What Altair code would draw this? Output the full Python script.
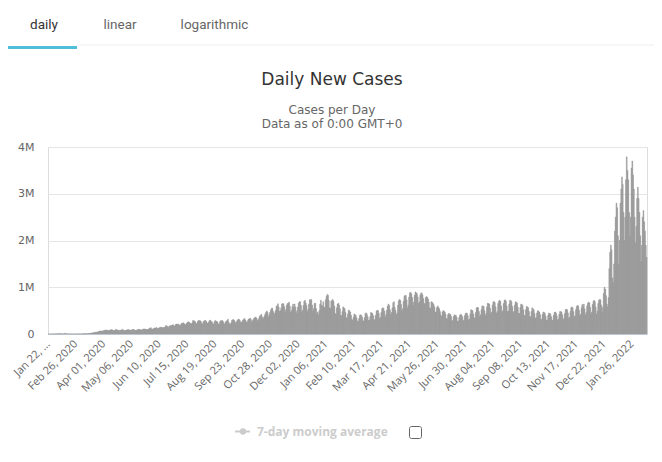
import altair as alt
import pandas as pd

# Daily new cases (thousands); weeks start on Wednesday
cases_2020_k = [
    0.6, 0.3, 0.3, 0.5, 0.7, 0.8, 1.8,
    1.7, 2.0, 2.1, 2.6, 2.8, 3.2, 3.9,
    3.7, 3.2, 3.4, 2.7, 2.6, 2.1, 2.0,
    15.1, 4.0, 2.6, 2.1, 2.0, 1.9, 1.8,
    0.5, 1.0, 0.6, 0.9, 0.6, 0.6, 0.9,
    1.2, 1.4, 1.9, 1.8, 2.3, 1.9, 2.3,
    2.3, 2.7, 3.8, 4.0, 4.1, 3.8, 4.6,
    7.0, 7.8, 10.5, 11.5, 14.1, 16.0, 18.2,
    26.1, 28.9, 32.0, 33.5, 40.2, 39.9, 43.7,
    50.0, 62.0, 63.2, 64.5, 64.1, 58.9, 67.8,
    76.9, 80.4, 83.5, 84.4, 80.2, 68.7, 75.1,
    82.3, 86.5, 90.2, 91.0, 84.3, 72.1, 71.6,
    82.1, 99.3, 83.4, 88.1, 79.4, 72.6, 75.8,
    81.6, 85.4, 100.2, 86.9, 80.1, 73.2, 75.5,
    84.9, 85.2, 95.1, 92.7, 87.6, 78.6, 75.6,
    90.1, 95.2, 94.6, 89.7, 80.3, 74.9, 82.4,
    90.6, 98.2, 95.0, 100.1, 83.4, 86.9, 92.3,
    100.5, 108.1, 107.6, 105.2, 98.4, 93.1, 94.2,
    104.1, 118.6, 125.2, 134.8, 108.0, 101.9, 109.7,
    124.0, 130.2, 128.4, 136.4, 115.5, 112.3, 129.2,
    134.4, 142.1, 145.3, 141.0, 125.1, 139.7, 141.4,
    150.3, 182.3, 171.5, 158.4, 140.1, 163.2, 176.9,
    176.0, 183.2, 192.3, 200.4, 168.3, 172.2, 198.0,
    213.1, 209.9, 207.8, 210.1, 183.8, 180.1, 212.7,
    225.9, 234.1, 238.3, 218.2, 199.4, 200.8, 228.4,
    244.2, 262.1, 250.2, 238.1, 222.4, 213.9, 239.3,
    286.1, 285.6, 277.3, 254.6, 209.6, 227.7, 269.6,
    290.1, 285.8, 282.3, 267.7, 226.3, 215.2, 262.9,
    280.0, 289.6, 286.4, 263.5, 234.6, 226.4, 260.4,
    290.3, 296.2, 265.3, 259.0, 218.1, 213.9, 263.8,
    286.4, 275.2, 269.5, 255.3, 212.4, 209.6, 262.4,
    282.1, 285.3, 286.3, 263.1, 222.4, 213.4, 258.9,
    276.8, 288.1, 315.2, 256.1, 218.4, 206.5, 238.2,
    290.1, 303.4, 308.3, 290.0, 255.1, 227.2, 267.4,
    299.3, 318.1, 313.2, 294.1, 253.3, 247.2, 275.2,
    300.1, 318.3, 330.4, 297.1, 259.2, 241.0, 285.7,
    318.4, 323.2, 340.1, 312.3, 256.2, 290.4, 310.1,
    342.3, 355.1, 360.2, 343.4, 281.2, 307.1, 330.3,
    382.1, 400.3, 420.1, 367.2, 321.4, 350.2, 390.1,
    432.2, 466.1, 493.3, 460.1, 365.4, 410.2, 465.3,
    515.1, 550.2, 550.4, 480.3, 415.2, 450.1, 500.3,
    595.2, 605.1, 645.3, 570.1, 480.2, 500.3, 560.1,
    640.1, 650.3, 645.2, 585.1, 470.4, 520.2, 620.1,
    650.2, 660.1, 680.3, 595.2, 460.1, 505.2, 585.3,
    640.1, 565.2, 640.3, 580.1, 450.2, 495.1, 575.3,
    660.2, 690.3, 690.1, 610.2, 470.3, 510.1, 610.2,
    700.1, 720.2, 665.3, 610.1, 480.2, 530.4, 640.1,
    735.3, 720.1, 740.2, 620.3, 490.1, 545.2, 650.3,
    660.2, 540.1, 425.3, 470.2, 410.1, 500.3, 640.2,
    720.1, 620.3,
]

cases_2021_k = [
    600, 690, 560, 575, 730,
    800, 845, 830, 720, 560, 555, 700,
    720, 740, 700, 600, 440, 420, 560,
    640, 660, 620, 540, 400, 390, 480,
    580, 560, 540, 460, 350, 340, 430,
    510, 500, 470, 400, 310, 300, 360,
    430, 410, 400, 350, 280, 270, 330,
    400, 410, 400, 360, 280, 280, 350,
    445, 450, 420, 370, 290, 300, 370,
    460, 450, 440, 390, 300, 310, 400,
    490, 510, 500, 440, 330, 360, 460,
    540, 560, 550, 490, 360, 410, 510,
    600, 640, 610, 520, 410, 460, 560,
    670, 690, 570, 510, 410, 450, 620,
    710, 740, 720, 630, 490, 540, 700,
    800, 830, 820, 730, 560, 620, 790,
    880, 890, 860, 780, 610, 680, 830,
    900, 880, 860, 790, 660, 690, 830,
    870, 880, 840, 760, 650, 650, 780,
    800, 780, 750, 680, 560, 550, 690,
    680, 660, 630, 580, 470, 470, 560,
    600, 570, 540, 480, 400, 380, 470,
    500, 490, 470, 430, 330, 320, 410,
    440, 430, 420, 380, 280, 290, 370,
    410, 400, 400, 360, 270, 280, 350,
    400, 420, 410, 370, 280, 300, 390,
    440, 450, 440, 390, 300, 320, 430,
    520, 510, 500, 430, 340, 350, 460,
    560, 570, 560, 480, 370, 410, 520,
    600, 600, 590, 500, 390, 440, 580,
    660, 650, 640, 550, 430, 470, 620,
    690, 690, 670, 580, 450, 480, 650,
    700, 720, 700, 600, 470, 500, 650,
    720, 730, 700, 600, 480, 490, 640,
    715, 720, 690, 590, 460, 480, 620,
    690, 680, 660, 570, 440, 440, 570,
    640, 630, 610, 520, 390, 400, 520,
    590, 580, 560, 480, 370, 370, 480,
    560, 540, 520, 440, 340, 350, 450,
    500, 490, 470, 410, 310, 320, 420,
    470, 460, 440, 380, 300, 300, 400,
    450, 440, 430, 370, 290, 300, 400,
    460, 470, 450, 390, 300, 320, 420,
    480, 480, 470, 410, 310, 330, 440,
    520, 530, 520, 450, 340, 360, 480,
    560, 580, 560, 480, 370, 390, 520,
    590, 610, 600, 510, 390, 420, 560,
    630, 600, 640, 540, 410, 460, 600,
    660, 680, 670, 570, 420, 470, 630,
    700, 720, 690, 580, 430, 490, 650,
    720, 740, 730, 620, 470, 570, 870,
    1000, 960, 820, 640, 580, 780, 1400,
    1750, 1900, 1800,
]

cases_2022_k = [
    1200, 1100, 1500, 2200,
    2500, 2800, 2700, 2100, 1500, 2000, 2800,
    3100, 3360, 3200, 2600, 2000, 2500, 3300,
    3790, 3500, 3300, 2600, 2100, 2500, 3550,
    3700, 3400, 3100, 2500, 1950, 2300, 2900,
    3140, 2900, 2600, 2100, 1550, 1900, 2500,
    2640, 2400, 2200, 1900, 1640,
]

start_date = "2020-01-22"
tick_every_days = 35
y_ticks = [0, 1000000, 2000000, 3000000, 4000000]
tab_labels = ["daily", "linear", "logarithmic"]
title_text = "Daily New Cases"
subtitle_lines = ["Cases per Day", "Data as of 0:00 GMT+0"]
legend_label = "7-day moving average"

values_k = cases_2020_k + cases_2021_k + cases_2022_k
dates = pd.date_range(start_date, periods=len(values_k), freq="D")
date_labels = [d.strftime("%b %d, %Y") for d in dates]
tick_labels = date_labels[::tick_every_days]
df = pd.DataFrame({"date": date_labels, "cases": [v * 1000 for v in values_k]})

FONT = "Open Sans"
TITLE_FONT = "DejaVu Sans"
W, H = 599, 187

bars = alt.Chart(df).mark_bar(color="#999999", stroke="#999999", strokeWidth=0.5).encode(
    x=alt.X(
        "date:N",
        scale=alt.Scale(domain=date_labels, paddingInner=0, paddingOuter=0),
        axis=alt.Axis(
            values=tick_labels,
            labelAngle=315,
            labelAlign="right",
            labelBaseline="middle",
            labelPadding=8,
            labelFontSize=11,
            labelFont=FONT,
            labelColor="#666666",
            labelOverlap=False,
            labelExpr="datum.value == '" + date_labels[0] + "' ? 'Jan 22, \u2026' : datum.label",
            ticks=False,
            grid=False,
            domainColor="#ccd6eb",
            title="",
        ),
    ),
    y=alt.Y(
        "cases:Q",
        scale=alt.Scale(domain=[0, 4000000], nice=False),
        axis=alt.Axis(
            values=y_ticks,
            labelExpr="datum.value == 0 ? '0' : (datum.value / 1000000) + 'M'",
            grid=True,
            gridColor="#e6e6e6",
            domain=False,
            ticks=False,
            labelPadding=14,
            labelFontSize=11,
            labelFont=TITLE_FONT,
            labelColor="#666666",
            title="",
        ),
    ),
)

one = alt.Data(values=[{}])


def text(t, x, y, size, color, font=FONT, weight="normal", align="center"):
    return alt.Chart(one).mark_text(
        text=t, fontSize=size, color=color, font=font, fontWeight=weight,
        align=align, baseline="alphabetic",
    ).encode(x=alt.value(x), y=alt.value(y))


layers = [bars]

# tabs
tab_x = [-4, 72, 166.5]
tab_colors = ["#333333", "#666666", "#666666"]
for lab, tx, tc in zip(tab_labels, tab_x, tab_colors):
    layers.append(text(lab, tx, -118, 13.5, tc, font="Roboto"))
layers.append(alt.Chart(one).mark_rule(color="#eeeeee", strokeWidth=1).encode(
    x=alt.value(29), x2=alt.value(606), y=alt.value(-102)))
layers.append(alt.Chart(one).mark_rule(color="#4fbfd9", strokeWidth=3).encode(
    x=alt.value(-40), x2=alt.value(29), y=alt.value(-99.5)))

# titles
layers.append(text(title_text, 284, -62, 17, "#333333", font=TITLE_FONT))
layers.append(text(subtitle_lines[0], 284, -33.5, 12, "#666666", font=TITLE_FONT))
layers.append(text(subtitle_lines[1], 284, -19, 12, "#666666", font=TITLE_FONT))

# legend
layers.append(alt.Chart(one).mark_rule(color="#cccccc", strokeWidth=2).encode(
    x=alt.value(187), x2=alt.value(202), y=alt.value(284.5)))
layers.append(alt.Chart(one).mark_point(shape="circle", filled=True, color="#cccccc", size=40, opacity=1).encode(
    x=alt.value(195), y=alt.value(284.5)))
layers.append(text(legend_label, 209, 289, 12, "#cccccc", weight="bold", align="left"))
layers.append(alt.Chart(one).mark_rect(fill="#ffffff", stroke="#666666", strokeWidth=1, cornerRadius=2).encode(
    x=alt.value(361.5), x2=alt.value(373.5), y=alt.value(279.5), y2=alt.value(291.5)))

chart = alt.layer(*layers).properties(
    width=W,
    height=H,
    autosize=alt.AutoSizeParams(type="none"),
    padding={"left": 40, "top": 139, "right": 7, "bottom": 120},
).configure_view(stroke=None).configure(background="#ffffff")

chart.save("out.html", embed_options={"renderer": "svg", "actions": False})
